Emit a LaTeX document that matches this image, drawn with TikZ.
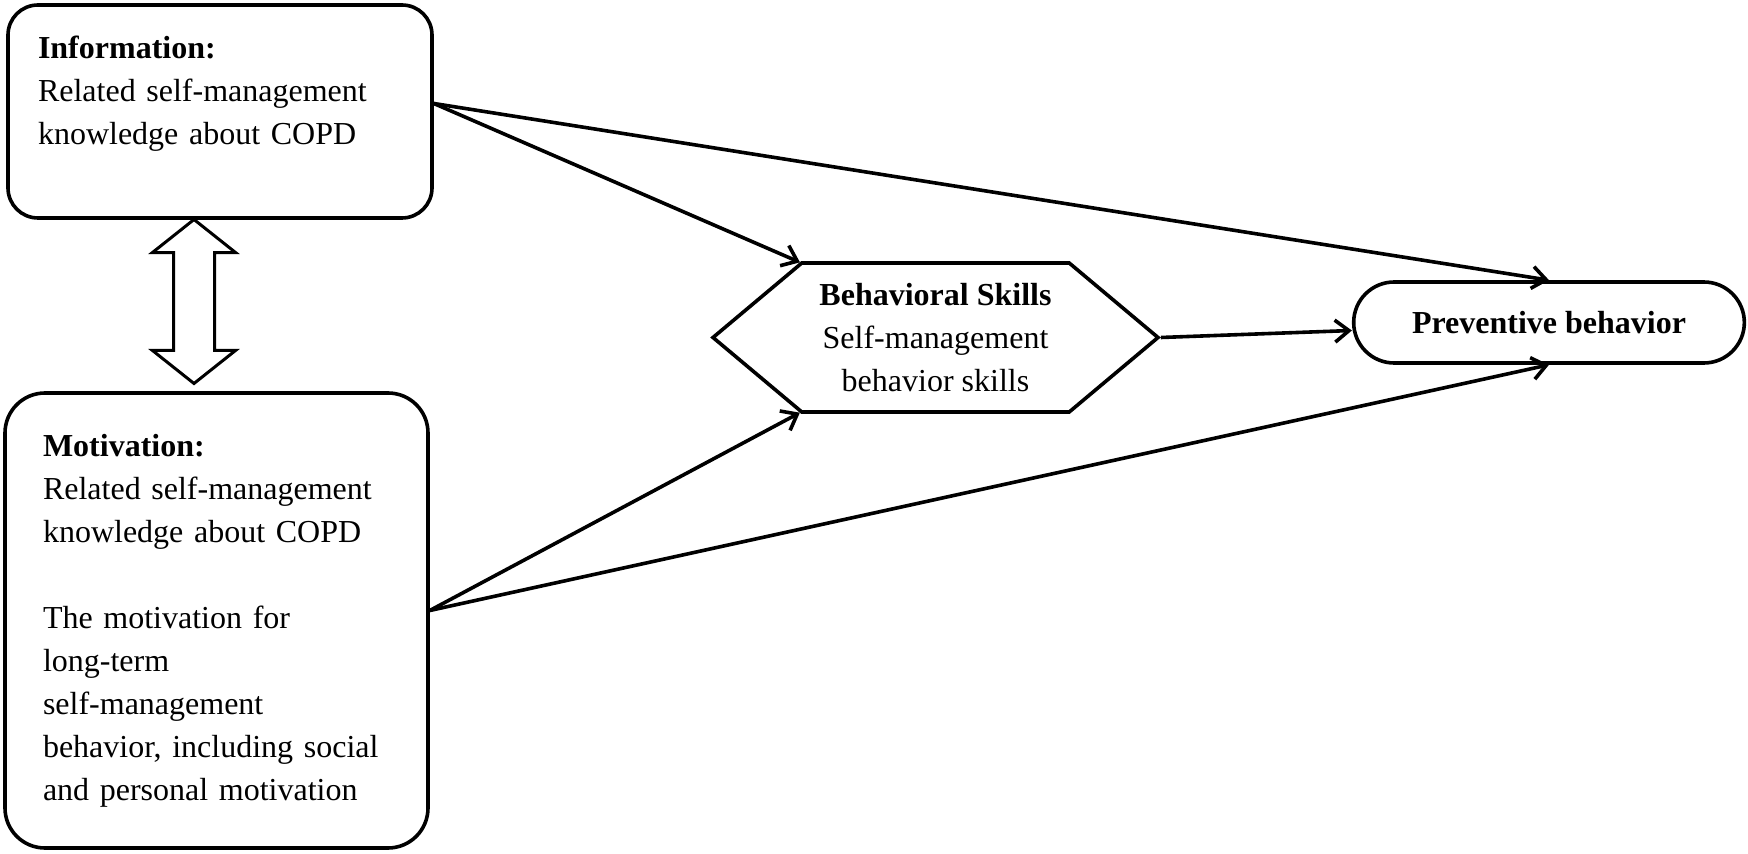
\documentclass[tikz,border=0pt]{standalone}
\usepackage{fontspec}
\setmainfont{Liberation Serif}
\usetikzlibrary{arrows.meta, shapes.arrows, shapes.misc, shapes.symbols}

\begin{document}
\begin{tikzpicture}[
    x=0.5pt, y=-0.5pt,
    every node/.style={font=\fontsize{16pt}{21.5pt}\selectfont},
    box_info/.style={rectangle, rounded corners=15pt, align=left, draw=black, line width=1.8pt, text width=182pt, inner xsep=15pt, minimum height=106.5pt},
    box_mot/.style={rectangle, rounded corners=20pt, align=left, draw=black, line width=1.8pt, text width=173.5pt, inner xsep=19pt, minimum height=227.5pt},
    skill/.style={signal, signal to=east and west, signal pointer angle=80, draw=black, line width=1.8pt, align=center, minimum width=222.5pt, minimum height=74.5pt, inner sep=0pt},
    outcome/.style={rounded rectangle, draw=black, line width=1.8pt, minimum width=202pt, minimum height=40.5pt, font=\fontsize{16pt}{21.5pt}\selectfont\bfseries},
    link_bidir/.style={double arrow, draw=black, line width=1.5pt, rotate=90, inner xsep=0pt, inner ysep=9.5pt, minimum height=82pt, double arrow head extend=10.5pt, double arrow tip angle=103},
    link/.style={-{Straight Barb[length=7pt, width=11pt]}, line width=1.8pt},
]
    \useasboundingbox (0, 0) rectangle (1748, 854);

    \node(info)[box_info] at (220, 111.5) {\textbf{Information:}\\ Related self-management\\ knowledge about COPD\\ \mbox{}};
    \node(mot)[box_mot] at (216.5, 620.5) {\textbf{Motivation:}\\ Related self-management\\ knowledge about COPD\\[21.5pt] The motivation for\\ long-term\\ self-management\\ behavior, including social\\ and personal motivation};
    \node(info_mot)[link_bidir] at (194, 301.5) {};

    \node(skills)[skill] at (935.5, 337.5) {\textbf{Behavioral Skills}\\ Self-management\\ behavior skills};
    \node(prev)[outcome] at (1549, 322.5) {Preventive behavior};

    \draw[link] ([yshift=4pt]info.east) -- (skills.151);
    \draw[link] ([yshift=4pt]info.east) -- (prev.north);
    \draw[link] (skills.east) -- ([yshift=-4pt]prev.west);
    \draw[link] ([yshift=5pt]mot.east) -- (skills.209);
    \draw[link] ([yshift=5pt]mot.east) -- (prev.south);
\end{tikzpicture}
\end{document}
